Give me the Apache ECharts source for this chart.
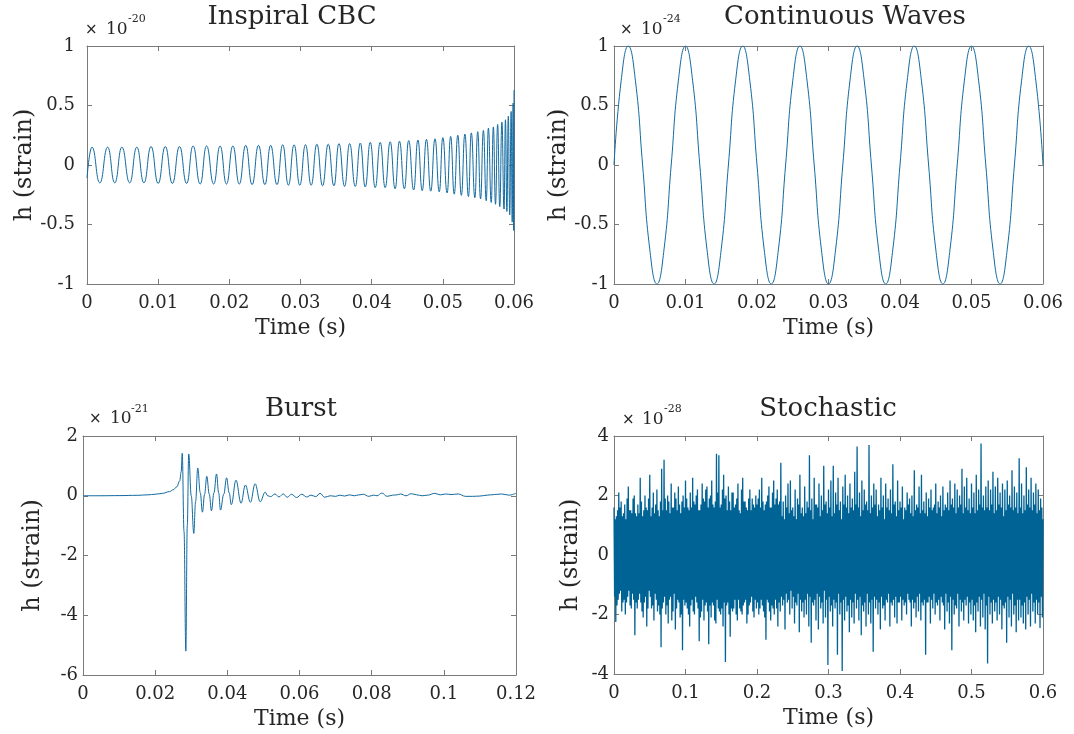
<!DOCTYPE html>
<html><head><meta charset="utf-8">
<script src="https://cdn.jsdelivr.net/npm/echarts@6/dist/echarts.min.js"></script>
<style>html,body{margin:0;padding:0;background:#fff}#c{width:1074px;height:734px}</style>
</head><body><div id="c"></div>
<script>
// ---------- DATA ----------
const titles = ['Inspiral CBC', 'Continuous Waves', 'Burst', 'Stochastic'];
const exponents = ['-20', '-24', '-21', '-28'];

// Inspiral CBC: extrema of the chirp (time in s, strain in 1e-20)
const cbcTime = [0, 0.0007, 0.0018, 0.0029, 0.0039, 0.0049, 0.0060, 0.0070, 0.0080, 0.0090, 0.0100,
  0.0110, 0.0120, 0.0130, 0.0140, 0.0149, 0.0159, 0.0168, 0.0178, 0.0187, 0.0196,
  0.0205, 0.0214, 0.0223, 0.0232, 0.0241, 0.0250, 0.0258, 0.0267, 0.0275, 0.0283,
  0.0291, 0.0299, 0.0307, 0.0315, 0.0323, 0.0331, 0.0339, 0.0347, 0.0354, 0.0362,
  0.0369, 0.0377, 0.0384, 0.0391, 0.0398, 0.0405, 0.0412, 0.0419, 0.0426, 0.0433,
  0.0439, 0.0446, 0.0452, 0.0459, 0.0465, 0.0471, 0.0477, 0.0483, 0.0489, 0.0495,
  0.0500, 0.0506, 0.0511, 0.0516, 0.0521, 0.0526, 0.0531, 0.0536, 0.0540, 0.0545,
  0.0549, 0.0553, 0.0557, 0.0561, 0.0564, 0.0568, 0.0571, 0.0574, 0.0577, 0.0580,
  0.0583, 0.0586, 0.0588, 0.0590, 0.0592, 0.0594, 0.0596, 0.05975, 0.05988, 0.05996, 0.0600];
const cbcStrain = [-0.11, 0.15, -0.15, 0.15, -0.15, 0.15, -0.15, 0.15, -0.15, 0.155, -0.155,
  0.155, -0.155, 0.155, -0.155, 0.16, -0.16, 0.16, -0.16, 0.16, -0.16,
  0.16, -0.16, 0.165, -0.165, 0.165, -0.165, 0.165, -0.165, 0.17, -0.17,
  0.17, -0.17, 0.17, -0.17, 0.175, -0.175, 0.175, -0.175, 0.18, -0.18,
  0.18, -0.18, 0.185, -0.185, 0.19, -0.19, 0.19, -0.19, 0.195, -0.2,
  0.2, -0.2, 0.205, -0.21, 0.21, -0.215, 0.215, -0.22, 0.22, -0.225,
  0.23, -0.235, 0.24, -0.245, 0.25, -0.255, 0.26, -0.265, 0.27, -0.275,
  0.28, -0.285, 0.29, -0.30, 0.31, -0.315, 0.32, -0.33, 0.34, -0.35,
  0.36, -0.37, 0.38, -0.39, 0.41, -0.42, 0.45, -0.48, 0.52, -0.55, 0.63];

// Continuous waves: samples every 1 ms (strain in 1e-24)
const cwStep = 0.001;
const cwStrain = [0, 0.707, 1, 0.707, 0, -0.707, -1, -0.707,
  0, 0.707, 1, 0.707, 0, -0.707, -1, -0.707,
  0, 0.707, 1, 0.707, 0, -0.707, -1, -0.707,
  0, 0.707, 1, 0.707, 0, -0.707, -1, -0.707,
  0, 0.707, 1, 0.707, 0, -0.707, -1, -0.707,
  0, 0.707, 1, 0.707, 0, -0.707, -1, -0.707,
  0, 0.707, 1, 0.707, 0, -0.707, -1, -0.707,
  0, 0.707, 1, 0.707, 0];

// Burst (strain in 1e-21)
const burstTime = [0, 0.005, 0.010, 0.015, 0.018, 0.020, 0.022, 0.024, 0.025, 0.026, 0.0268, 0.0272, 0.0275,
  0.0280, 0.0285, 0.0289, 0.0293, 0.0300, 0.0307, 0.0312, 0.0318, 0.0325, 0.0331, 0.0337, 0.0343,
  0.0350, 0.0356, 0.0363, 0.0370, 0.0376, 0.0381, 0.0390, 0.0398, 0.0405, 0.0411, 0.0424, 0.0438,
  0.0450, 0.0464, 0.0477, 0.0491, 0.0505, 0.0512, 0.0520, 0.0532, 0.0543, 0.0555, 0.0566, 0.0578,
  0.0592, 0.0606, 0.0620, 0.0632, 0.0645, 0.0657, 0.0670, 0.0685, 0.0700, 0.0712, 0.0725, 0.0738,
  0.0752, 0.0765, 0.0777, 0.0792, 0.0805, 0.0815, 0.0828, 0.0843, 0.0858, 0.0870, 0.0880, 0.0895,
  0.0910, 0.0925, 0.0940, 0.0955, 0.0975, 0.0990, 0.1005, 0.1020, 0.1040, 0.1060, 0.1080, 0.1100,
  0.1120, 0.1140, 0.1160, 0.1180, 0.1200];
const burstStrain = [0, 0, 0.005, 0.015, 0.03, 0.05, 0.08, 0.14, 0.2, 0.3, 0.5, 0.8, 1.42,
  -1.2, -5.2, -1.0, 1.4, 0.0, -1.26, -0.2, 0.93, 0.1, -0.55, 0.05, 0.65,
  0.05, -0.5, 0.1, 0.73, 0.1, -0.48, 0.05, 0.6, 0.1, -0.3, 0.52, -0.25,
  0.36, -0.22, 0.4, -0.2, 0.12, 0.0, -0.03, 0.06, -0.04, 0.06, -0.05, 0.05,
  -0.06, 0.05, -0.04, 0.02, -0.03, 0.08, -0.05, 0.0, -0.02, 0.02, -0.01, 0.03,
  0.0, 0.03, 0.05, -0.02, 0.02, 0.0, 0.09, -0.02, 0.02, 0.03, 0.06, 0.0,
  0.07, 0.03, 0.0, 0.02, 0.08, 0.03, 0.06, 0.04, 0.06, -0.02, -0.02, -0.01,
  0.02, 0.04, 0.06, 0.02, 0.08];

// Stochastic: samples every 1/1200 s (strain in 1e-28)
const stochStep = 1 / 1200;
const stochStrain = [
  1.6, -1.4, 1.2, -2.25, 1.3, -1.7, 1.5, -1.5, 2.1, -1.3, 1.6, -1.2, 1.8, -1.9, 1.3, -1.6, 1.4, -1.5, 1.7, -2.0, 1.2, -1.6, 1.9, -1.4, 2.3, -1.2, 1.5, -1.7, 1.5, -1.8, 1.4, -1.3, 1.9, -1.5, 2.0, -2.7, 1.4, -1.6, 1.3, -1.8,
  1.7, -1.5, 1.4, -1.3, 2.6, -1.6, 1.8, -1.9, 1.3, -2.1, 1.5, -1.6, 2.0, -1.4, 1.6, -2.4, 1.5, -1.8, 1.9, -1.2, 2.7, -1.4, 1.3, -1.8, 1.6, -1.7, 2.1, -2.2, 1.4, -1.3, 1.7, -1.5, 2.2, -1.9, 1.5, -1.7, 1.3, -2.0, 1.8, -3.1,
  2.9, -1.8, 1.5, -1.6, 3.2, -1.4, 1.9, -2.0, 1.5, -1.7, 2.0, -2.3, 1.8, -1.5, 1.4, -1.4, 2.4, -2.2, 1.6, -1.9, 1.6, -1.3, 2.1, -2.5, 1.9, -1.8, 1.5, -1.5, 2.3, -1.6, 1.7, -2.1, 1.4, -2.0, 1.8, -3.2, 2.0, -1.5, 1.6, -1.7,
  2.5, -1.6, 1.9, -1.8, 1.6, -2.0, 1.5, -2.4, 2.1, -1.7, 1.6, -1.5, 2.6, -1.9, 1.8, -2.0, 1.7, -1.4, 2.0, -1.6, 2.2, -1.8, 1.5, -2.9, 1.5, -2.1, 1.7, -1.9, 2.4, -1.5, 1.9, -2.2, 1.8, -1.7, 2.2, -1.6, 2.3, -1.9, 1.6, -3.0,
  1.9, -1.7, 2.0, -2.1, 2.5, -1.6, 1.7, -1.7, 1.6, -2.2, 1.8, -2.3, 3.4, -1.5, 2.1, -1.8, 3.35, -1.9, 1.6, -2.0, 1.7, -1.8, 2.2, -2.4, 2.7, -1.6, 1.9, -3.6, 2.0, -1.7, 1.5, -1.6, 2.3, -2.0, 1.8, -2.75, 1.5, -1.8, 2.1, -1.9,
  2.1, -1.8, 1.6, -1.5, 1.7, -2.0, 1.9, -2.2, 2.4, -1.5, 1.5, -1.8, 1.4, -1.9, 2.2, -2.0, 2.6, -1.7, 1.8, -1.6, 1.8, -1.5, 1.6, -2.3, 1.5, -2.0, 1.9, -1.7, 2.2, -1.6, 1.5, -1.4, 1.9, -1.9, 1.7, -2.1, 1.6, -1.5, 2.0, -1.8,
  1.7, -1.6, 1.9, -2.0, 2.2, -1.8, 1.6, -1.5, 2.6, -1.7, 1.8, -1.9, 1.5, -2.1, 1.7, -2.85, 1.8, -1.5, 2.0, -1.6, 2.3, -1.9, 1.6, -2.2, 1.6, -1.7, 2.1, -1.8, 2.5, -2.0, 1.7, -1.5, 1.9, -1.8, 2.2, -2.4, 1.7, -1.6, 1.8, -1.9,
  3.1, -1.4, 1.3, -1.7, 1.8, -1.5, 1.2, -2.5, 2.0, -1.3, 1.6, -1.6, 2.4, -1.5, 1.4, -2.0, 2.5, -1.2, 1.5, -1.8, 1.6, -1.4, 1.3, -2.3, 2.2, -1.6, 1.2, -1.7, 1.9, -1.3, 1.7, -2.6, 2.7, -1.5, 1.4, -1.9, 1.6, -1.6, 1.3, -2.1,
  2.3, -1.5, 1.4, -2.0, 1.8, -1.3, 1.6, -2.4, 3.35, -1.4, 1.5, -2.95, 1.9, -1.6, 1.2, -1.7, 2.6, -1.5, 1.7, -2.2, 1.7, -1.3, 1.6, -2.5, 2.4, -1.4, 1.3, -1.8, 2.0, -1.6, 1.5, -2.3, 3.0, -1.2, 1.7, -2.1, 1.8, -1.5, 1.4, -3.7,
  2.2, -1.4, 1.6, -1.9, 2.5, -1.7, 1.3, -2.4, 3.0, -1.5, 1.4, -1.8, 2.1, -1.6, 1.7, -3.35, 2.6, -1.3, 1.5, -2.0, 1.8, -1.6, 1.2, -3.9, 2.3, -1.5, 1.7, -2.2, 2.7, -1.4, 1.6, -1.9, 2.0, -1.7, 1.4, -2.6, 2.4, -1.5, 1.6, -2.1,
  1.9, -1.6, 1.5, -2.3, 2.8, -1.3, 1.7, -1.8, 3.65, -1.5, 1.6, -2.2, 2.1, -1.4, 1.3, -2.7, 2.5, -1.7, 1.5, -1.9, 2.2, -1.6, 1.7, -2.4, 1.8, -1.3, 1.5, -2.0, 3.7, -1.6, 1.4, -2.3, 2.0, -1.5, 1.6, -3.25, 2.4, -1.4, 1.7, -1.8,
  2.2, -1.5, 1.3, -2.0, 1.7, -1.6, 1.5, -2.5, 2.6, -1.4, 1.6, -1.8, 2.0, -1.7, 1.2, -2.2, 2.4, -1.5, 1.6, -1.6, 1.9, -1.3, 1.5, -2.4, 2.2, -1.6, 1.4, -1.7, 3.05, -1.5, 1.7, -2.1, 1.8, -1.4, 1.3, -2.3, 2.5, -1.6, 1.5, -1.6,
  1.8, -1.4, 1.6, -2.2, 2.3, -1.5, 1.2, -1.7, 1.6, -1.6, 1.5, -2.0, 2.1, -1.3, 1.7, -1.5, 1.9, -1.6, 1.4, -2.4, 2.0, -1.5, 1.3, -1.8, 2.85, -1.6, 1.5, -2.1, 1.7, -1.4, 1.6, -1.9, 2.3, -1.3, 1.4, -2.2, 2.7, -1.6, 1.5, -1.7,
  1.8, -1.5, 1.4, -3.35, 2.1, -1.6, 1.3, -1.6, 1.9, -1.4, 1.6, -2.3, 2.2, -1.5, 1.5, -1.8, 1.6, -1.3, 1.7, -2.0, 2.4, -1.6, 1.4, -1.7, 1.8, -1.5, 1.6, -2.2, 2.0, -1.4, 1.3, -1.6, 2.3, -1.7, 1.5, -2.5, 1.7, -1.3, 1.6, -1.9,
  2.1, -1.6, 1.5, -2.3, 2.5, -1.4, 1.7, -3.2, 1.9, -1.5, 1.6, -2.0, 2.4, -1.7, 1.4, -1.8, 2.2, -1.3, 1.6, -2.4, 2.0, -1.5, 1.7, -1.9, 2.9, -1.6, 1.4, -2.2, 2.3, -1.5, 1.6, -1.7, 2.6, -1.4, 1.5, -2.3, 1.9, -1.6, 1.4, -2.0,
  2.4, -1.5, 1.6, -2.2, 2.1, -1.7, 1.4, -2.6, 2.7, -1.6, 1.5, -1.9, 2.2, -1.4, 1.7, -2.4, 3.75, -1.5, 1.6, -2.1, 2.0, -1.3, 1.5, -2.5, 2.3, -1.7, 1.6, -3.65, 2.5, -1.4, 1.5, -2.0, 2.2, -1.6, 1.7, -2.3, 2.8, -1.5, 1.4, -1.9,
  2.3, -1.6, 1.5, -2.2, 2.6, -1.4, 1.7, -2.0, 2.1, -1.5, 1.6, -2.5, 2.4, -1.7, 1.3, -1.8, 2.2, -1.6, 1.5, -2.95, 2.5, -1.4, 1.7, -2.1, 2.0, -1.5, 1.6, -2.4, 2.85, -1.3, 1.5, -2.0, 2.3, -1.7, 1.6, -2.6, 2.1, -1.5, 1.4, -2.2,
  3.25, -1.5, 1.6, -2.1, 2.4, -1.7, 1.4, -2.3, 2.0, -1.6, 1.5, -2.5, 2.95, -1.4, 1.7, -2.0, 2.2, -1.5, 1.6, -2.4, 2.6, -1.3, 1.5, -1.9, 2.1, -1.6, 1.7, -2.3, 2.4, -1.5, 1.4, -2.0, 2.2, -1.6, 1.5, -2.45, 1.9, -1.4, 1.6, -2.1,
  1.2];

// Axis ranges [min, max, interval]
const xRanges = [[0, 0.06, 0.01], [0, 0.06, 0.01], [0, 0.12, 0.02], [0, 0.6, 0.1]];
const yRanges = [[-1, 1, 0.5], [-1, 1, 0.5], [-6, 2, 2], [-4, 4, 2]];

// ---------- LAYOUT ----------
const FONT = "'DejaVu Serif', serif";
const AXC = '#7a7a7a';
const TXT = '#262626';
const LINE = '#126aa0';
const grids = [
  {left: 87, top: 46, width: 427, height: 238},
  {left: 614, top: 46, width: 429, height: 238},
  {left: 83, top: 436, width: 433, height: 239},
  {left: 614, top: 436, width: 429, height: 238}
];
const yNameGap = [40, 34, 38, 31];
const yLabelMargin = [12, 5, 5, 5];

const fmt = v => String(parseFloat(Number(v).toFixed(4)));

const xAxis = [], yAxis = [];
grids.forEach((g, i) => {
  const [xmin, xmax, xint] = xRanges[i];
  const [ymin, ymax, yint] = yRanges[i];
  const common = {
    splitLine: {show: false},
    axisLine: {show: true, onZero: false, lineStyle: {color: AXC, width: 1}},
    axisTick: {show: true, inside: true, length: 5, lineStyle: {color: AXC, width: 1}}
  };
  xAxis.push(Object.assign({
    type: 'value', gridIndex: i, position: 'bottom', min: xmin, max: xmax, interval: xint,
    name: 'Time (s)', nameLocation: 'middle', nameGap: 33,
    nameTextStyle: {fontFamily: FONT, fontSize: 22, color: TXT},
    axisLabel: {show: true, margin: 10, fontFamily: FONT, fontSize: 18, color: TXT, formatter: fmt,
      showMinLabel: true, showMaxLabel: true}
  }, common));
  xAxis.push(Object.assign({
    type: 'value', gridIndex: i, position: 'top', min: xmin, max: xmax, interval: xint,
    axisLabel: {show: false}
  }, common));
  yAxis.push(Object.assign({
    type: 'value', gridIndex: i, position: 'left', min: ymin, max: ymax, interval: yint,
    name: 'h (strain)', nameLocation: 'middle', nameGap: yNameGap[i],
    nameTextStyle: {fontFamily: FONT, fontSize: 24, color: TXT},
    axisLabel: {show: true, margin: yLabelMargin[i], fontFamily: FONT, fontSize: 18, color: TXT, formatter: fmt,
      showMinLabel: true, showMaxLabel: true}
  }, common));
  yAxis.push(Object.assign({
    type: 'value', gridIndex: i, position: 'right', min: ymin, max: ymax, interval: yint,
    axisLabel: {show: false}
  }, common));
});

const zip = (t, v) => t.map((x, k) => [x, v[k]]);
const sampled = (step, v) => v.map((y, k) => [k * step, y]);

const baseSeries = (i, data, extra) => Object.assign({
  type: 'line', xAxisIndex: 2 * i, yAxisIndex: 2 * i, data: data,
  showSymbol: false, symbol: 'none', animation: false, silent: true, clip: true,
  lineStyle: {color: LINE, width: 1}
}, extra || {});

const series = [
  baseSeries(0, zip(cbcTime, cbcStrain), {smooth: 0.5, smoothMonotone: 'x'}),
  baseSeries(1, sampled(cwStep, cwStrain), {smooth: 0.5}),
  baseSeries(2, zip(burstTime, burstStrain), {smooth: 0.4, smoothMonotone: 'x'}),
  baseSeries(3, sampled(stochStep, stochStrain), {lineStyle: {color: '#006396', width: 1.3}})
];

// text decorations
const titlePos = [[292, 17], [845, 17], [301, 409], [828, 409]];
const expPos = [
  {xx: 85, x10: 106, xs: 128, y: 30, ys: 19},
  {xx: 620, x10: 641, xs: 663, y: 30, ys: 19},
  {xx: 89, x10: 110, xs: 131, y: 419, ys: 409},
  {xx: 622, x10: 642, xs: 664, y: 420, ys: 409}
];
const txt = (x, y, text, font, align) => ({
  type: 'text', x: x, y: y, silent: true,
  style: {text: text, font: font, fill: TXT, textAlign: align || 'left', textVerticalAlign: 'middle',
    align: align || 'left', verticalAlign: 'middle'}
});
const graphic = [];
titles.forEach((t, i) => graphic.push(txt(titlePos[i][0], titlePos[i][1], t, "26px 'DejaVu Serif'", 'center')));
exponents.forEach((e, i) => {
  const p = expPos[i];
  graphic.push(txt(p.xx, p.y, '\u00d7', "15px 'DejaVu Sans'"));
  graphic.push(txt(p.x10, p.y, '10', "17px 'DejaVu Serif'"));
  graphic.push(txt(p.xs, p.ys, e, "11px 'DejaVu Serif'"));
});

const chart = echarts.init(document.getElementById('c'), null, {renderer: 'canvas'});
chart.setOption({
  backgroundColor: '#fff',
  animation: false,
  grid: grids,
  xAxis: xAxis,
  yAxis: yAxis,
  series: series,
  graphic: graphic
});
</script></body></html>
